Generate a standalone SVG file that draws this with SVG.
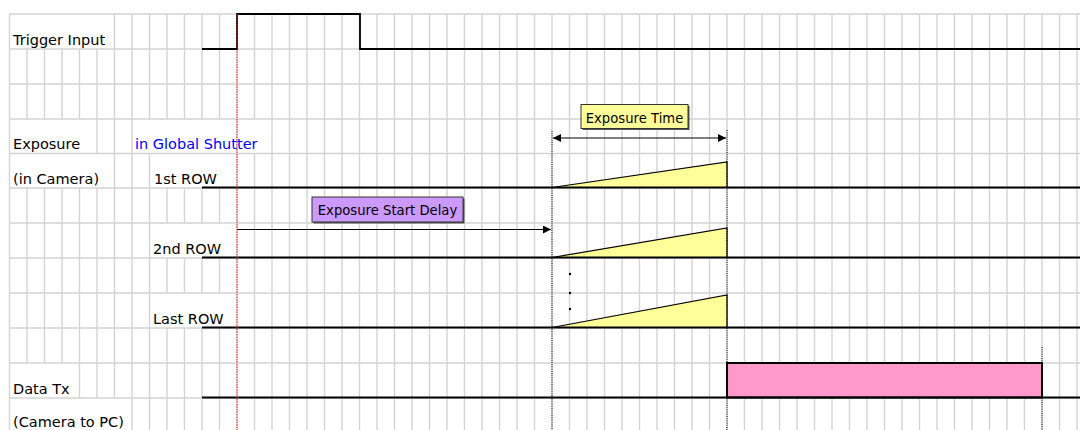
<svg xmlns="http://www.w3.org/2000/svg" width="1080" height="430" viewBox="0 0 1080 430">
<style>
.grid{stroke:#d4d4d4;stroke-width:1.4;fill:none}
.sig{stroke:#000;stroke-width:1.8;fill:none}
.lbl{font-family:"DejaVu Sans",sans-serif;font-size:14.5px;fill:#000}
.blue{fill:#0000ff}
.box{font-family:"DejaVu Sans",sans-serif;font-size:13.2px;fill:#000;text-anchor:middle}
.dot{stroke:#000;stroke-width:1;stroke-dasharray:1 1.2;fill:none}
.red{stroke:#ff2020;stroke-width:1;stroke-dasharray:1.5 1;fill:none}
.tri{fill:#ffff99;stroke:#000;stroke-width:1.2}
.arr{stroke:#000;stroke-width:1;fill:none}
</style>
<defs>
<marker id="ah" viewBox="0 0 10 10" refX="10" refY="5" markerWidth="8" markerHeight="8" markerUnits="userSpaceOnUse" orient="auto-start-reverse">
<path d="M0 0 L10 5 L0 10 Z" fill="#000"/>
</marker>
</defs>
<rect width="1080" height="430" fill="#fff"/>
<g id="grid">
<path class="grid" d="M9.5 14V430 M132 14V430 M237 14V430 M272 14V430 M289.5 14V430 M307 14V430 M324.5 14V430 M342 14V430 M359.5 14V430 M377 14V430 M394.5 14V430 M412 14V430 M429.5 14V430 M447 14V430 M464.5 14V430 M482 14V430 M499.5 14V430 M517 14V430 M534.5 14V430 M552 14V430 M569.5 14V430 M587 14V430 M604.5 14V430 M622 14V430 M639.5 14V430 M657 14V430 M674.5 14V430 M692 14V430 M709.5 14V430 M727 14V430 M744.5 14V430 M762 14V430 M779.5 14V430 M797 14V430 M814.5 14V430 M832 14V430 M849.5 14V430 M867 14V430 M884.5 14V430 M902 14V430 M919.5 14V430 M937 14V430 M954.5 14V430 M972 14V430 M989.5 14V430 M1007 14V430 M1024.5 14V430 M1042 14V430 M1059.5 14V430 M1077 14V430"/>
<path class="grid" d="M27 49V119 M27 188V363 M44.5 49V119 M44.5 188V363 M62 49V119 M62 188V363 M79.5 49V119 M79.5 188V398 M97 49V154 M97 188V398 M114.5 14V398 M149.5 14V119 M149.5 154V430 M254.5 14V119 M254.5 154V430"/>
<path class="grid" d="M167 14V119 M167 188V223 M167 258V293 M167 328V430 M184.5 14V119 M184.5 188V223 M184.5 258V293 M184.5 328V430 M202 14V119 M202 188V223 M202 258V293 M202 328V430 M219.5 14V119 M219.5 188V223 M219.5 258V293 M219.5 328V430"/>
<path class="grid" d="M9.5 14H1080 M9.5 49H1080 M9.5 84H1080 M9.5 119H1080 M9.5 153.5H1080 M9.5 188H1080 M9.5 223H1080 M9.5 258H1080 M9.5 293H1080 M9.5 328H1080 M9.5 363H1080 M9.5 398H1080"/>
</g>
<g id="labels">
<text class="lbl" x="13" y="45">Trigger Input</text>
<text class="lbl" x="13" y="149">Exposure</text>
<text class="lbl blue" x="135" y="149">in Global Shutter</text>
<text class="lbl" x="13" y="184">(in Camera)</text>
<text class="lbl" x="154" y="184">1st ROW</text>
<text class="lbl" x="153" y="254">2nd ROW</text>
<text class="lbl" x="153" y="324">Last ROW</text>
<text class="lbl" x="13" y="394">Data Tx</text>
<text class="lbl" x="13" y="427">(Camera to PC)</text>
</g>
<g id="trigger">
<path class="sig" d="M202 49H237V14H360V49H1080"/>
</g>
<g id="row1">
<path class="tri" d="M552 187.5L727 162V187.5Z"/>
<path class="sig" d="M202 187.5H1080"/>
</g>
<g id="row2">
<path class="tri" d="M552 257.5L727 228V257.5Z"/>
<path class="sig" d="M202 257.5H1080"/>
</g>
<g id="rowLast">
<path class="tri" d="M552 327.5L727 295V327.5Z"/>
<path class="sig" d="M202 327.5H1080"/>
<circle cx="570" cy="274" r="1.2" fill="#000"/>
<circle cx="570" cy="293" r="1.2" fill="#000"/>
<circle cx="570" cy="309" r="1.2" fill="#000"/>
</g>
<g id="datatx">
<rect x="727" y="363" width="315" height="34.5" fill="#ff99cc" stroke="#000" stroke-width="2"/>
<path class="sig" d="M202 397.5H1080"/>
</g>
<g id="markers">
<path class="red" d="M237 14V430"/>
<path class="dot" d="M552 131V430"/>
<path class="dot" d="M727 130V430"/>
<path class="dot" d="M1042 347V430"/>
</g>
<g id="connectors">
<path class="arr" d="M553 138H726" marker-start="url(#ah)" marker-end="url(#ah)"/>
<path class="arr" d="M237 229.5H551" marker-end="url(#ah)"/>
</g>
<g id="exposureTime">
<rect x="582.5" y="106" width="107" height="24" fill="#555"/>
<rect x="581" y="104.5" width="107" height="24" fill="#ffff99" stroke="#333" stroke-width="1"/>
<text class="box" x="634.5" y="122.5">Exposure Time</text>
</g>
<g id="startDelay">
<rect x="313.5" y="198.5" width="151" height="25" fill="#555"/>
<rect x="312" y="197" width="151" height="25" fill="#cc99ff" stroke="#333" stroke-width="1"/>
<text class="box" x="387.5" y="215">Exposure Start Delay</text>
</g>
</svg>
